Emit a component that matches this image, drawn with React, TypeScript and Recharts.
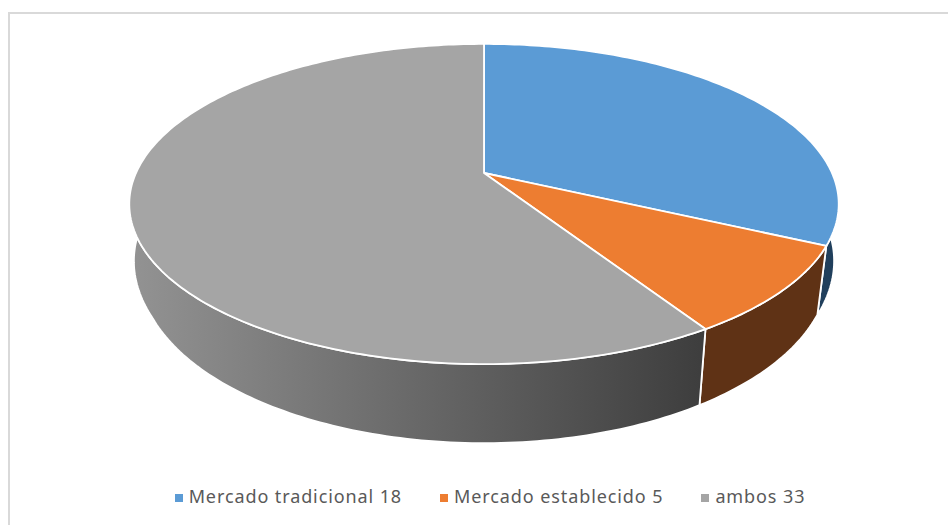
import { PieChart, Pie, Legend } from 'recharts'

const categories = ['Mercado tradicional', 'Mercado establecido', 'ambos']
const values = [18, 5, 33]

const topColors = ['#5B9BD5', '#ED7D31', '#A5A5A5']
const wallColors = ['#203F5C', '#5F3215', 'url(#grayWall)']

const chartData = categories.map((c, i) => ({
  name: `${c} ${values[i]}`,
  value: values[i],
  fill: topColors[i],
}))

// the pie is seen in perspective, so the rim is the circle run through a projective map
const TILT = 0.1937
const TOP_Y = 0.4428
const LOW_X = 0.973
const LOW_Y = 0.48
const LOW_DROP = 0.181

function rim(cx: number, cy: number, r: number, theta: number, low: boolean) {
  const rad = (theta * Math.PI) / 180
  const u = Math.sin(rad)
  const v = Math.cos(rad)
  const d = 1 + TILT * v
  if (low) {
    // lower rim runs almost as wide as the top one at the sides
    const sx = LOW_X + 0.05 * Math.max(0, v + 0.45)
    return [cx + (r * sx * u) / d, cy + r * LOW_DROP - (r * LOW_Y * v) / d]
  }
  return [cx + (r * u) / d, cy - (r * TOP_Y * v) / d]
}

function arc(cx: number, cy: number, r: number, from: number, to: number, low: boolean) {
  const pts: string[] = []
  const n = Math.max(2, Math.ceil(Math.abs(to - from)))
  for (let i = 0; i <= n; i++) {
    const p = rim(cx, cy, r, from + ((to - from) * i) / n, low)
    pts.push(`${p[0].toFixed(2)} ${p[1].toFixed(2)}`)
  }
  return pts
}

function Slice3D(props: any) {
  const { cx, cy, outerRadius, startAngle, endAngle, index, fill } = props
  const start = 90 - startAngle
  const end = 90 - endAngle
  const wallFrom = Math.max(start, 90)
  const wallTo = Math.min(end, 275)
  const wall = [...arc(cx, cy, outerRadius, wallFrom, wallTo, false), ...arc(cx, cy, outerRadius, wallTo, wallFrom, true)]
  const top = arc(cx, cy, outerRadius, start, end, false)
  return (
    <g>
      <defs>
        <linearGradient id="grayWall" gradientUnits="userSpaceOnUse" x1={cx - outerRadius} y1={0} x2={cx + outerRadius * 0.62} y2={0}>
          <stop offset="0%" stopColor="#929292" />
          <stop offset="100%" stopColor="#3E3E3E" />
        </linearGradient>
      </defs>
      <path d={`M${wall.join('L')}Z`} fill={wallColors[index]} stroke="#fff" strokeWidth={1.8} strokeLinejoin="round" />
      <path d={`M${cx} ${cy}L${top.join('L')}Z`} fill={fill} stroke="#fff" strokeWidth={1.8} strokeLinejoin="round" />
    </g>
  )
}

export default function App() {
  return (
    <div style={{ position: 'absolute', left: 0, top: 0, width: 948, height: 525, overflow: 'hidden', background: '#fff' }}>
      <div style={{ position: 'absolute', left: 8, top: 12, right: 0, bottom: 0, borderLeft: '2.5px solid #D9D9D9', borderTop: '2.5px solid #D9D9D9' }} />
      <PieChart width={948} height={525} margin={{ top: 0, right: 0, bottom: 0, left: 0 }}>
        <Pie
          data={chartData}
          dataKey="value"
          nameKey="name"
          cx={484}
          cy={173}
          innerRadius={0}
          outerRadius={348}
          startAngle={90}
          endAngle={-270}
          shape={Slice3D}
          isAnimationActive={false}
        />
        <Legend
          layout="horizontal"
          iconType="square"
          iconSize={8}
          itemSorter={null}
          wrapperStyle={{ left: 35, width: 948, top: 484, fontFamily: '"Noto Sans", sans-serif', fontSize: 18, letterSpacing: 0.9 }}
          formatter={(value: string) => <span style={{ color: '#595959', marginLeft: 2, marginRight: 28 }}>{value}</span>}
        />
      </PieChart>
    </div>
  )
}
